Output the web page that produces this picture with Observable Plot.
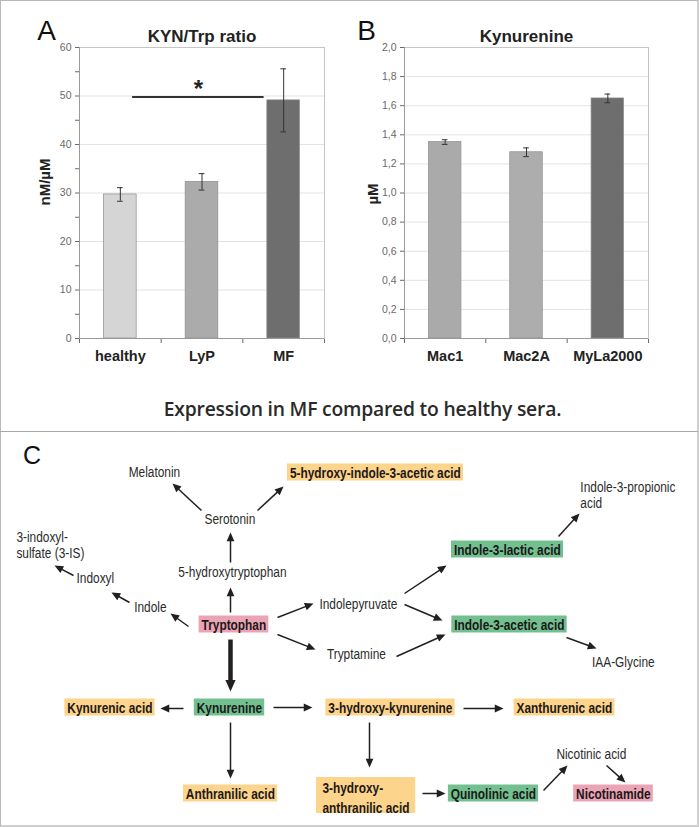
<!DOCTYPE html>
<html><head><meta charset="utf-8">
<script src="https://cdn.jsdelivr.net/npm/d3@7"></script>
<script src="https://cdn.jsdelivr.net/npm/@observablehq/plot@0.6"></script>
<style>
body{margin:0;background:#fff}
#fig{position:relative;width:699px;height:827px;overflow:hidden;background:#fff}
.abs{position:absolute}
#cap{left:13px;width:699px;top:398px;text-align:center;font-family:"Open Sans",sans-serif;font-weight:600;font-size:19.3px;line-height:22px;color:#2a2a2a;white-space:nowrap;letter-spacing:-0.2px}
</style></head><body>
<div id="fig">
  <div id="A" class="abs" style="left:0;top:0"></div>
  <div id="B" class="abs" style="left:340px;top:0"></div>
  <div id="cap" class="abs">Expression in MF compared to healthy sera.</div>
  <div id="C" class="abs" style="left:0;top:432px"></div>
  <div id="Ct" class="abs" style="left:0;top:432px"></div>
  <div class="abs" style="left:0;top:0;width:696px;height:824px;border:1px solid #b8b8b8;border-right:2px solid #cfcfcf;border-bottom:2px solid #cfcfcf;pointer-events:none"></div>
  <div class="abs" style="left:0;top:431px;width:698px;height:1px;background:#a8a8a8"></div>
</div>
<script>
// ---------- Panel A data ----------
const groupsA = ["healthy", "LyP", "MF"];
const meansA = [29.7, 32.3, 49.1];
const errA = [1.4, 1.7, 6.5];
const ticksA = [0, 5, 10, 15, 20, 25, 30, 35, 40, 45, 50, 55, 60];
const sigA = [{from: "healthy", to: "MF", y: 49.8, label: "*"}];

// ---------- Panel B data ----------
const groupsB = ["Mac1", "Mac2A", "MyLa2000"];
const meansB = [1.35, 1.28, 1.65];
const errB = [0.016, 0.03, 0.03];
const ticksB = [0, 0.2, 0.4, 0.6, 0.8, 1.0, 1.2, 1.4, 1.6, 1.8, 2.0];

// ---------- Panel C (pathway) data: label, highlight class, layout position ----------
const pathwayNodes = [
  {label: "Melatonin", kind: "none", x: 154, y: 472, align: "middle"},
  {label: "5-hydroxy-indole-3-acetic acid", kind: "hl-orange", x: 375, y: 473, align: "middle"},
  {label: "Serotonin", kind: "none", x: 229.5, y: 519, align: "middle"},
  {label: "5-hydroxytryptophan", kind: "none", x: 232, y: 572, align: "middle"},
  {label: "3-indoxyl-\nsulfate (3-IS)", kind: "none", x: 16, y: 544, align: "start"},
  {label: "Indoxyl", kind: "none", x: 95, y: 578, align: "middle"},
  {label: "Indole", kind: "none", x: 150, y: 607, align: "middle"},
  {label: "Tryptophan", kind: "hl-pink", x: 233.5, y: 625, align: "middle"},
  {label: "Indolepyruvate", kind: "none", x: 358, y: 604, align: "middle"},
  {label: "Indole-3-propionic\nacid", kind: "none", x: 580, y: 494, align: "start"},
  {label: "Indole-3-lactic acid", kind: "hl-green", x: 507, y: 550, align: "middle"},
  {label: "Indole-3-acetic acid", kind: "hl-green", x: 509, y: 625, align: "middle"},
  {label: "Tryptamine", kind: "none", x: 356, y: 654, align: "middle"},
  {label: "IAA-Glycine", kind: "none", x: 623, y: 662, align: "middle"},
  {label: "Kynurenic acid", kind: "hl-orange", x: 109.5, y: 708, align: "middle"},
  {label: "Kynurenine", kind: "hl-green", x: 229, y: 708, align: "middle"},
  {label: "3-hydroxy-kynurenine", kind: "hl-orange", x: 390, y: 708, align: "middle"},
  {label: "Xanthurenic acid", kind: "hl-orange", x: 564, y: 708, align: "middle"},
  {label: "Anthranilic acid", kind: "hl-orange", x: 230, y: 794, align: "middle"},
  {label: "3-hydroxy-\nanthranilic acid", kind: "hl-orange", x: 322, y: 796, align: "start"},
  {label: "Quinolinic acid", kind: "hl-green", x: 493, y: 794, align: "middle"},
  {label: "Nicotinic acid", kind: "none", x: 591, y: 754, align: "middle"},
  {label: "Nicotinamide", kind: "hl-pink", x: 613, y: 794, align: "middle"}
];
const pathwayArrows = [
  {from: "Serotonin", to: "Melatonin", x1: 201, y1: 510, x2: 172, y2: 483, main: false},
  {from: "Serotonin", to: "5-HIAA", x1: 257, y1: 510, x2: 283, y2: 486, main: false},
  {from: "5-HTP", to: "Serotonin", x1: 230, y1: 562, x2: 230, y2: 532, main: false},
  {from: "Tryptophan", to: "5-HTP", x1: 230, y1: 612, x2: 230, y2: 587, main: false},
  {from: "Tryptophan", to: "Indole", x1: 188, y1: 626, x2: 170, y2: 613, main: false},
  {from: "Indole", to: "Indoxyl", x1: 129, y1: 602, x2: 111, y2: 592, main: false},
  {from: "Indoxyl", to: "3-IS", x1: 73, y1: 575, x2: 54, y2: 565, main: false},
  {from: "Tryptophan", to: "Indolepyruvate", x1: 277, y1: 617, x2: 313, y2: 603, main: false},
  {from: "Tryptophan", to: "Tryptamine", x1: 277, y1: 634, x2: 315, y2: 649, main: false},
  {from: "Indolepyruvate", to: "ILA", x1: 404, y1: 593, x2: 446, y2: 565, main: false},
  {from: "Indolepyruvate", to: "IAA", x1: 404, y1: 604, x2: 442, y2: 620, main: false},
  {from: "Tryptamine", to: "IAA", x1: 396, y1: 656, x2: 445, y2: 634, main: false},
  {from: "ILA", to: "IPA", x1: 558, y1: 536, x2: 579, y2: 513, main: false},
  {from: "IAA", to: "IAA-Glycine", x1: 566, y1: 637, x2: 596, y2: 648, main: false},
  {from: "Tryptophan", to: "Kynurenine", x1: 230, y1: 639, x2: 230, y2: 691, main: true},
  {from: "Kynurenine", to: "Kynurenic acid", x1: 183, y1: 708, x2: 160, y2: 708, main: false},
  {from: "Kynurenine", to: "3-HK", x1: 273, y1: 707, x2: 312, y2: 707, main: false},
  {from: "Kynurenine", to: "Anthranilic acid", x1: 230, y1: 722, x2: 230, y2: 778, main: false},
  {from: "3-HK", to: "Xanthurenic acid", x1: 463, y1: 708, x2: 503, y2: 708, main: false},
  {from: "3-HK", to: "3-HAA", x1: 369, y1: 722, x2: 369, y2: 767, main: false},
  {from: "3-HAA", to: "Quinolinic acid", x1: 422, y1: 793, x2: 445, y2: 793, main: false},
  {from: "Quinolinic acid", to: "Nicotinic acid", x1: 543, y1: 790, x2: 567, y2: 765, main: false},
  {from: "Nicotinic acid", to: "Nicotinamide", x1: 606, y1: 765, x2: 625, y2: 782, main: false}
];

// ---------- helpers ----------
const arial = "'Liberation Sans', Arial, sans-serif";
const ink = "#231f20";

function barChart({groups, means, errs, yDomain, yTicks, yFormat, gridTicks, colors, width, marginLeft, marginRight, title, letter, letterDx, yLabel, yLabelDx, yLabelDy, sig}) {
  const data = groups.map((g, i) => ({g, i, v: means[i], e: errs[i]}));
  const marks = [
    Plot.ruleY(gridTicks, {stroke: "#e3e3e3"}),
    Plot.frame({stroke: "#c6c6c6"}),
    Plot.rect(data, {x1: d => d.i - 0.2, x2: d => d.i + 0.2, y1: 0, y2: "v", fill: "g", stroke: "#8e8e8e", strokeWidth: 0.7}),
    Plot.ruleX(data, {x: "i", y1: d => d.v - d.e, y2: d => d.v + d.e, stroke: "#333", strokeWidth: 1}),
    Plot.ruleY(data, {y: d => d.v + d.e, x1: d => d.i - 0.035, x2: d => d.i + 0.035, stroke: "#333"}),
    Plot.ruleY(data, {y: d => d.v - d.e, x1: d => d.i - 0.035, x2: d => d.i + 0.035, stroke: "#333"}),
    Plot.ruleX([-0.5], {stroke: "#9a9a9a"}),
    Plot.ruleY([0], {stroke: "#9a9a9a"}),
    Plot.text(data, {x: "i", y: 0, text: "g", dy: 18, fontWeight: "bold", fontSize: 14.5, fontFamily: arial, fill: "#222"}),
    Plot.text([title], {text: d => d, frameAnchor: "top", lineAnchor: "middle", dy: -11, fontWeight: "bold", fontSize: 17, fontFamily: arial, fill: "#222"}),
    Plot.text([letter], {text: d => d, frameAnchor: "top-left", lineAnchor: "middle", textAnchor: "middle", dx: letterDx, dy: -16, fontSize: 28, fontFamily: arial, fill: "#111"}),
    Plot.text([yLabel], {text: d => d, frameAnchor: "left", textAnchor: "middle", lineAnchor: "middle", dx: yLabelDx, dy: yLabelDy, rotate: -90, fontWeight: "bold", fontSize: 15, fontFamily: arial, fill: "#222"})
  ];
  if (sig) {
    const idx = g => groups.indexOf(g);
    marks.push(Plot.ruleY(sig, {y: "y", x1: d => idx(d.from) + 0.15, x2: d => idx(d.to) - 0.24, stroke: "#333", strokeWidth: 2}));
    marks.push(Plot.text(sig, {x: d => (idx(d.from) + 0.15 + idx(d.to) - 0.24) / 2, y: "y", text: "label", dy: -8, fontWeight: "bold", fontSize: 24, fontFamily: arial, fill: "#222"}));
  }
  return Plot.plot({
    width, height: 380, marginLeft, marginRight, marginTop: 47, marginBottom: 42,
    style: {background: "transparent", fontFamily: arial, fontSize: "10.5px", color: "#6a6a6a", overflow: "visible"},
    x: {domain: [-0.5, 2.5], ticks: [-0.5, 0.5, 1.5, 2.5], tickSize: 5, tickFormat: () => "", label: null},
    y: {domain: yDomain, ticks: yTicks, tickSize: 4, tickPadding: 4, tickFormat: yFormat, label: null},
    color: {domain: groups, range: colors},
    marks
  });
}

document.getElementById("A").append(barChart({
  groups: groupsA, means: meansA, errs: errA, yDomain: [0, 60], yTicks: ticksA,
  yFormat: d => d % 10 === 0 ? String(d) : "", gridTicks: ticksA.filter(d => d % 10 === 0 && d > 0),
  colors: ["#d5d5d5", "#ababab", "#6e6e6e"], width: 340, marginLeft: 79, marginRight: 16,
  title: "KYN/Trp ratio", letter: "A", letterDx: -33, yLabel: "nM/µM", yLabelDx: -34.5, yLabelDy: -11,
  sig: sigA
}));
document.getElementById("B").append(barChart({
  groups: groupsB, means: meansB, errs: errB, yDomain: [0, 2], yTicks: ticksB,
  yFormat: d => d.toFixed(1).replace(".", ","), gridTicks: ticksB.filter(d => d > 0),
  colors: ["#aaaaaa", "#adadad", "#6e6e6e"], width: 359, marginLeft: 64, marginRight: 51,
  title: "Kynurenine", letter: "B", letterDx: -38, yLabel: "µM", yLabelDx: -31.5, yLabelDy: 1,
  sig: null
}));

// ---------- Panel C ----------
// Condensed lettering: text is set in Liberation Sans and squeezed horizontally.
const SQ = 0.767;
const FS = 15.5;
const ctx = document.createElement("canvas").getContext("2d");
function textWidth(s, bold) {
  ctx.font = `${bold ? "bold" : "normal"} ${FS}px ${arial}`;
  return SQ * Math.max(...s.split("\n").map(l => ctx.measureText(l).width));
}
const boxed = pathwayNodes.filter(d => d.kind !== "none").map(d => {
  const n = d.label.split("\n").length;
  const w = textWidth(d.label, true);
  const pad = n > 1 ? 6 : 2.5;
  const h = n > 1 ? 36 : 17;
  const x1 = d.align === "start" ? d.x - pad : d.x - w / 2 - pad;
  return {...d, n, bx1: x1, bx2: x1 + w + 2 * pad, by1: d.y - 1 - h / 2, by2: d.y - 1 + h / 2};
});
const arrowHead = {
  draw(c, size) {
    const k = Math.sqrt(size / Math.PI);
    const L = 2.3 * k, w = 1.02 * k;
    c.moveTo(0, 0); c.lineTo(-w, L); c.lineTo(w, L); c.closePath();
  }
};
const arrowGeo = pathwayArrows.map(a => {
  const dx = a.x2 - a.x1, dy = a.y2 - a.y1, len = Math.hypot(dx, dy);
  const ux = dx / len, uy = dy / len;
  const r = a.main ? 5 : 3.8;
  const L = 2.3 * r;
  return {...a, ex: a.x2 - ux * (L - 1.5), ey: a.y2 - uy * (L - 1.5), angle: Math.atan2(ux, -uy) * 180 / Math.PI, r};
});
const plain = pathwayNodes.filter(d => d.kind === "none");

const plotC = Plot.plot({
  width: 699, height: 395, marginLeft: 0, marginRight: 0, marginTop: 0, marginBottom: 0,
  style: {background: "transparent", overflow: "visible"},
  x: {domain: [0, 699], range: [0, 699], axis: null},
  y: {domain: [432, 827], range: [0, 395], axis: null},
  r: {type: "identity"},
  color: {domain: ["hl-orange", "hl-green", "hl-pink"], range: ["#fdd48b", "#72bf8f", "#eba4b5"]},
  marks: [
    Plot.rect(boxed, {x1: "bx1", x2: "bx2", y1: "by1", y2: "by2", fill: "kind"}),
    Plot.link(arrowGeo.filter(a => !a.main), {x1: "x1", y1: "y1", x2: "ex", y2: "ey", stroke: ink, strokeWidth: 1.5}),
    Plot.link(arrowGeo.filter(a => a.main), {x1: "x1", y1: "y1", x2: "ex", y2: "ey", stroke: ink, strokeWidth: 4.5}),
    Plot.dot(arrowGeo, {x: "x2", y: "y2", rotate: "angle", r: "r", symbol: arrowHead, fill: ink}),
    Plot.text(["C"], {x: () => 31.5, y: () => 455, text: d => d, fontSize: 25, fontFamily: arial, fill: "#111"})
  ]
});
document.getElementById("C").append(plotC);

// text layer: x range widened by 1/SQ, then the svg is squeezed back by SQ
const W = 699 / SQ;
const txt = (data, opts) => Plot.text(data, {x: "x", y: "y", text: "label", fontSize: FS, fontFamily: arial, fill: "#2b2b2b", ...opts});
const plotCt = Plot.plot({
  width: W, height: 395, marginLeft: 0, marginRight: 0, marginTop: 0, marginBottom: 0,
  style: {background: "transparent", overflow: "visible", maxWidth: "none", transform: `scaleX(${SQ})`, transformOrigin: "0 0"},
  x: {domain: [0, 699], range: [0, W], axis: null},
  y: {domain: [432, 827], range: [0, 395], axis: null},
  marks: [
    txt(plain.filter(d => d.align === "middle"), {}),
    txt(plain.filter(d => d.align === "start"), {textAnchor: "start", lineHeight: 1.05}),
    txt(boxed.filter(d => d.align === "middle"), {fontWeight: "bold", fill: "#1c1819"}),
    txt(boxed.filter(d => d.align === "start"), {fontWeight: "bold", fill: "#1c1819", textAnchor: "start", lineHeight: 1.29})
  ]
});
document.getElementById("Ct").append(plotCt);
</script>
</body></html>
